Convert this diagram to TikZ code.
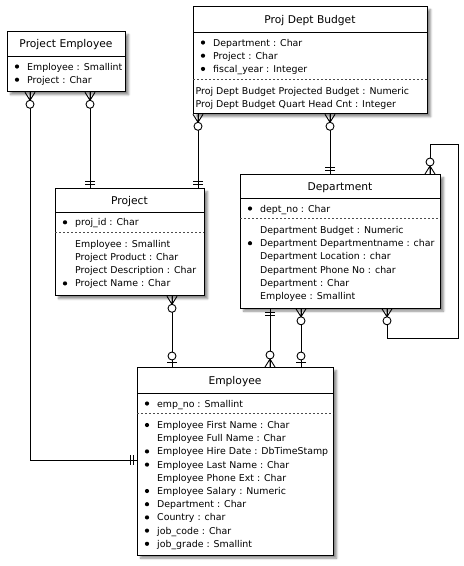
\documentclass[tikz,border=0pt]{standalone}
\usepackage{fontspec}
\setmainfont{DejaVu Sans}
\usetikzlibrary{shadows.blur}

\tikzset{
  entity/.style={draw, line width=1.3pt, fill=white, inner sep=0pt, anchor=north west,
    blur shadow={shadow xshift=3pt, shadow yshift=-3pt, shadow blur radius=2pt,
      shadow blur steps=6, shadow opacity=45}},
  etitle/.style={font=\fontsize{10.7}{13}\selectfont, inner sep=0pt, text height=8pt, text depth=0pt},
  attr/.style={font=\fontsize{9.4}{12}\selectfont, inner sep=0pt, anchor=west, text height=7pt, text depth=0pt},
  rel/.style={line width=.9pt},
  sepline/.style={line width=.8pt, black!70, dash pattern=on 2pt off 2pt},
  % crow's foot with circle: zero or many
  ermany/.pic={\draw[rel] (-5,0) -- (0,8) -- (5,0) (0,0) -- (0,8);
               \draw[rel, fill=white] (0,12) circle (4);},
  % two bars: exactly one
  erone/.pic={\draw[rel] (-5,4) -- (5,4) (-5,7) -- (5,7);},
  % bar with circle: zero or one
  erzone/.pic={\draw[rel] (-5,5) -- (5,5);
               \draw[rel, fill=white] (0,11) circle (4);}
}

% rows of attributes: name, text x, y of first row, list of bullet/label
\newcommand{\attrlist}[4]{%
  \foreach \bul/\lbl [count=\i from 0] in {#4} {
    \node[attr] (#1-\i) at (#2, #3+13.2*\i) {\lbl};
    \ifnum\bul=1 \fill (#2-10, #3+13.2*\i) circle (2.1); \fi
  }}

\begin{document}
\begin{tikzpicture}[x=1pt, y=-1pt]
\useasboundingbox (0,0) rectangle (464,566);

% entities
\node[entity, minimum width=118pt, minimum height=60pt] (pemp) at (7,31) {};
\node[entity, minimum width=234pt, minimum height=107pt] (pdb) at (193,6) {};
\node[entity, minimum width=149pt, minimum height=107pt] (proj) at (55,188) {};
\node[entity, minimum width=200pt, minimum height=133.5pt] (dept) at (240,174) {};
\node[entity, minimum width=196pt, minimum height=187.5pt] (emp) at (137,367) {};

% Project Employee
\node[etitle] (pemp-t) at (66,43.5) {Project Employee};
\draw[rel] (7,56) -- (125,56);
\attrlist{pemp-a}{27}{66.5}{1/Employee : Smallint, 1/Project : Char}

% Proj Dept Budget
\node[etitle] (pdb-t) at (310,19) {Proj Dept Budget};
\draw[rel] (193,32) -- (427,32);
\attrlist{pdb-a}{213}{42.5}{1/Department : Char, 1/Project : Char, 1/fiscal\_year : Integer}
\draw[sepline] (193,79) -- (427,79);
\attrlist{pdb-b}{195.5}{90.5}{0/Proj Dept Budget Projected Budget : Numeric,
  0/Proj Dept Budget Quart Head Cnt : Integer}

% Project
\node[etitle] (proj-t) at (129.5,200) {Project};
\draw[rel] (55,212) -- (204,212);
\attrlist{proj-a}{75}{222.3}{1/proj\_id : Char}
\draw[sepline] (55,232.3) -- (204,232.3);
\attrlist{proj-b}{75}{243.8}{0/Employee : Smallint, 0/Project Product : Char,
  0/Project Description : Char, 1/Project Name : Char}

% Department
\node[etitle] (dept-t) at (340,186) {Department};
\draw[rel] (240,198) -- (440,198);
\attrlist{dept-a}{260}{208.5}{1/dept\_no : Char}
\draw[sepline] (240,218.5) -- (440,218.5);
\attrlist{dept-b}{260}{230}{0/Department Budget : Numeric, 1/Department Departmentname : char,
  0/Department Location : char, 0/Department Phone No : char,
  0/Department : Char, 0/Employee : Smallint}

% Employee
\node[etitle] (emp-t) at (235,380) {Employee};
\draw[rel] (137,393) -- (333,393);
\attrlist{emp-a}{157}{403.5}{1/emp\_no : Smallint}
\draw[sepline] (137,413.5) -- (333,413.5);
\attrlist{emp-b}{157}{425}{1/Employee First Name : Char, 0/Employee Full Name : Char,
  1/Employee Hire Date : DbTimeStamp, 1/Employee Last Name : Char,
  0/Employee Phone Ext : Char, 1/Employee Salary : Numeric,
  1/Department : Char, 1/Country : char, 1/job\_code : Char, 1/job\_grade : Smallint}

% relations
\coordinate (c1) at ([xshift=23pt]pemp.south west);
\coordinate (c1e) at ([yshift=-93pt]emp.north west);
\coordinate (c2) at ([xshift=83pt]pemp.south west);
\coordinate (c3) at ([xshift=5pt]pdb.south west);
\coordinate (c4) at ([xshift=137pt]pdb.south west);
\coordinate (c5) at ([xshift=117pt]proj.south west);
\coordinate (c6) at ([xshift=30pt]dept.south west);
\coordinate (c7) at ([xshift=61pt]dept.south west);
\coordinate (c8) at ([xshift=147pt]dept.south west);
\coordinate (c8e) at ([xshift=190pt]dept.north west);

\draw[rel] (c1) |- (c1e);
\draw[rel] (c2) -- (c2 |- proj.north);
\draw[rel] (c3) -- (c3 |- proj.north);
\draw[rel] (c4) -- (c4 |- dept.north);
\draw[rel] (c5) -- (c5 |- emp.north);
\draw[rel] (c6) -- (c6 |- emp.north);
\draw[rel] (c7) -- (c7 |- emp.north);
\draw[rel] (c8) -- ++(0,30) -| (458,144) -| (c8e);

\pic at (c1) {ermany};
\pic[rotate=-90] at (c1e) {erone};
\pic at (c2) {ermany};
\pic[rotate=180] at (c2 |- proj.north) {erone};
\pic at (c3) {ermany};
\pic[rotate=180] at (c3 |- proj.north) {erone};
\pic at (c4) {ermany};
\pic[rotate=180] at (c4 |- dept.north) {erone};
\pic at (c5) {ermany};
\pic[rotate=180] at (c5 |- emp.north) {erzone};
\pic at (c6) {erone};
\pic[rotate=180] at (c6 |- emp.north) {ermany};
\pic at (c7) {ermany};
\pic[rotate=180] at (c7 |- emp.north) {erzone};
\pic at (c8) {ermany};
\pic[rotate=180] at (c8e) {ermany};
\end{tikzpicture}
\end{document}
